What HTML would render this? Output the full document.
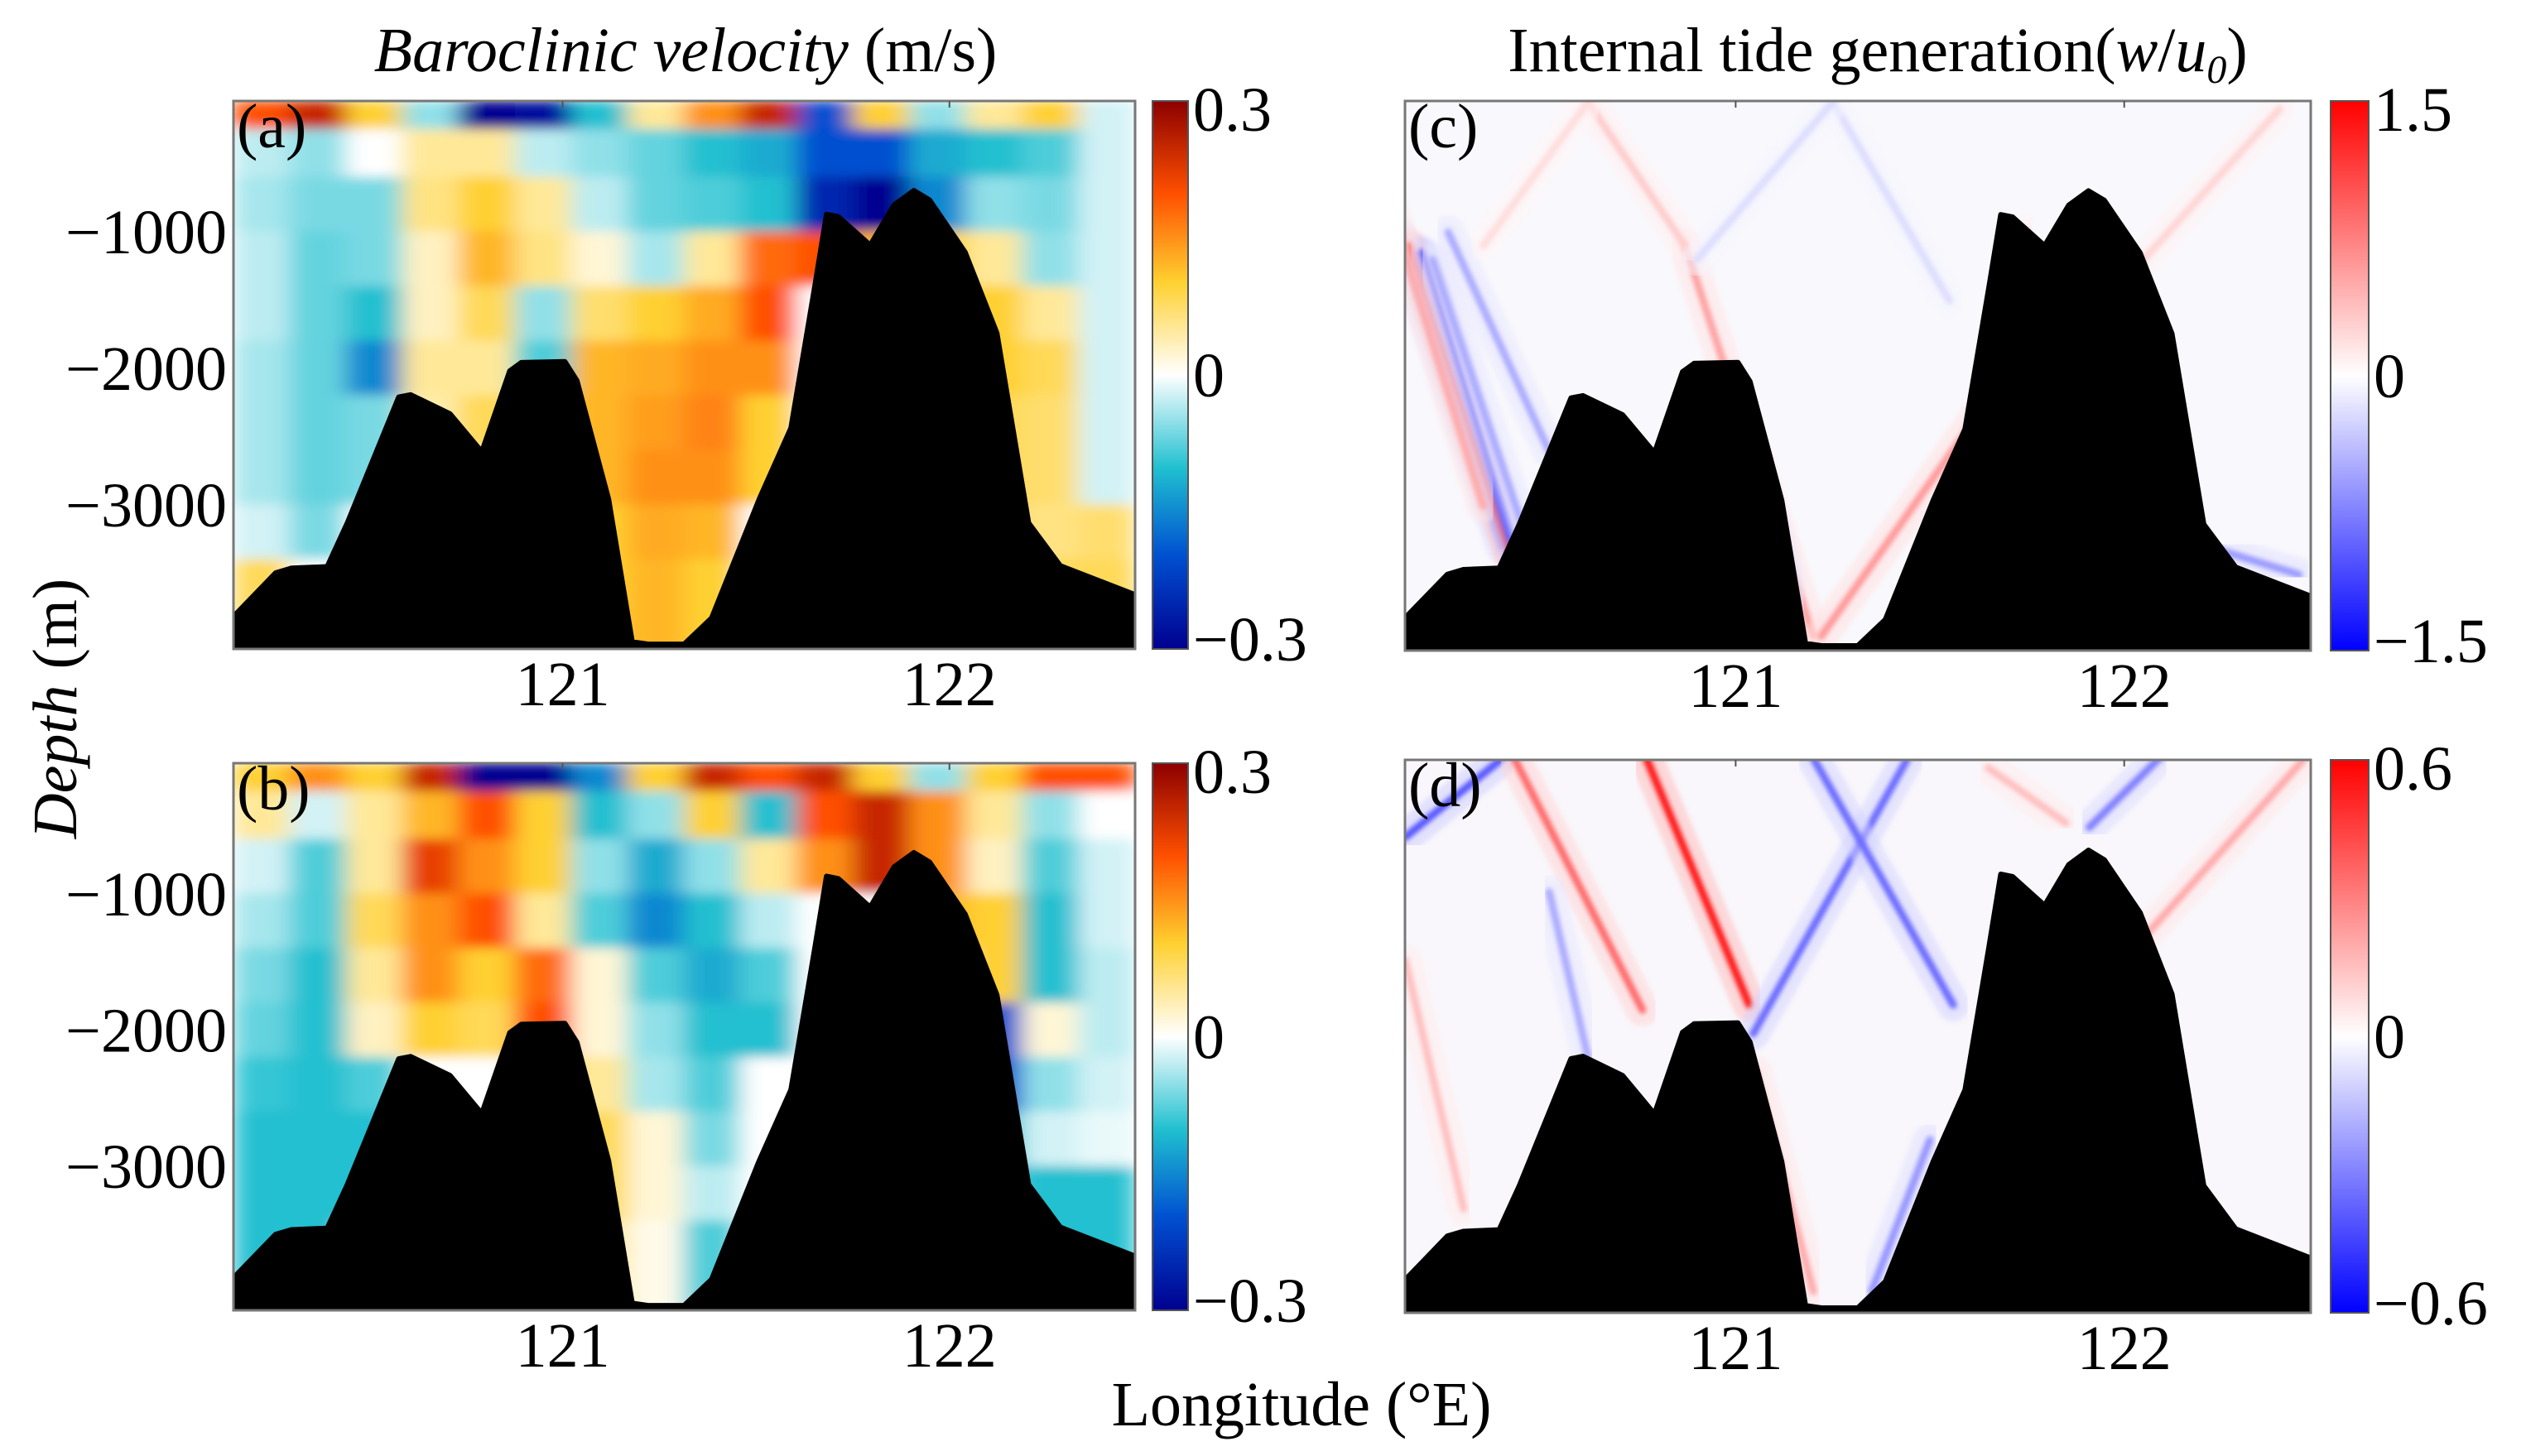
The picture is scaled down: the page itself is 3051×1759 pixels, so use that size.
<!DOCTYPE html>
<html><head><meta charset="utf-8"><style>
html,body{margin:0;padding:0;background:#fff;}
svg{display:block;font-family:"Liberation Serif",serif;}
</style></head><body>
<svg id="fig" width="3051" height="1759" viewBox="0 0 3051 1759" xmlns="http://www.w3.org/2000/svg">
<defs>
<linearGradient id="jetGrad" x1="0" y1="1" x2="0" y2="0">
<stop offset="0" stop-color="#000090"/><stop offset="0.17" stop-color="#0050d0"/><stop offset="0.33" stop-color="#20c0d0"/><stop offset="0.5" stop-color="#ffffff"/><stop offset="0.67" stop-color="#ffd030"/><stop offset="0.83" stop-color="#ff5000"/><stop offset="1" stop-color="#8c0000"/>
</linearGradient>
<linearGradient id="bwrGrad" x1="0" y1="1" x2="0" y2="0">
<stop offset="0" stop-color="#0000ff"/><stop offset="0.5" stop-color="#ffffff"/><stop offset="1" stop-color="#ff0000"/>
</linearGradient>
<filter id="soft" x="-5%" y="-5%" width="110%" height="110%"><feGaussianBlur stdDeviation="14 7" edgeMode="duplicate"/></filter>
<filter id="beamBlur"><feGaussianBlur stdDeviation="3"/></filter>
</defs>
</svg>
<script>
// ---- data ----
const lonEdgesMin = 120.149, lonEdgesMax = 122.48;
const depthRowEdges = [-42,-250,-600,-1000,-1400,-1800,-2200,-2600,-3000,-3400,-4100];
const velA = [
[0.2,0.25,0.1,-0.05,-0.3,-0.28,-0.1,0.05,0.15,0.25,-0.2,0.1,-0.05,0.05,0.1,-0.02],
[-0.03,-0.05,0,0.05,0.05,-0.03,-0.05,-0.07,-0.1,-0.12,-0.2,-0.2,-0.12,-0.1,-0.08,-0.02],
[-0.04,-0.06,-0.06,0.06,0.1,0.05,-0.03,-0.07,-0.08,-0.1,-0.25,-0.3,-0.15,-0.05,-0.06,-0.02],
[-0.03,-0.07,-0.06,0.03,0.12,0.06,0.02,-0.04,0.05,0.18,0.2,0.12,0.1,0.05,-0.05,-0.02],
[-0.03,-0.07,-0.1,0.03,0.08,-0.05,0.07,0.1,0.13,0.2,0,0,0.08,0.1,0.05,-0.02],
[-0.04,-0.07,-0.15,0.05,0.05,-0.08,0.12,0.13,0.15,0.15,0,0,0.06,0.1,0.08,-0.02],
[-0.04,-0.07,-0.06,0.04,0.08,0.1,0.12,0.14,0.16,0.1,0,0,0,0.08,0.07,-0.02],
[-0.04,-0.07,-0.06,0,0,0,0.12,0.15,0.15,0.1,0,0,0,0.08,0.07,-0.02],
[-0.02,-0.06,0,0,0,0,0.1,0.13,0.12,0,0,0,0,0.07,0.06,0.07],
[0.08,0.0,0,0,0,0,0.1,0.12,0.1,0,0,0,0,0,0.08,0.08]];
const velB = [
[0.1,0.15,0.1,0.25,-0.3,-0.3,-0.15,0.1,0.25,0.2,0.25,0.1,-0.05,0.1,0.2,0.2],
[0.05,-0.02,0.05,0.12,0.2,0.1,-0.1,-0.05,0.1,-0.1,0.2,0.25,0.15,0.05,-0.05,0],
[-0.02,-0.08,0.05,0.22,0.15,0.1,-0.05,-0.12,-0.05,0.05,0.15,0.25,0.15,0.03,-0.08,-0.02],
[-0.04,-0.08,0.08,0.15,0.2,0.05,-0.08,-0.15,-0.1,-0.03,0,0,0.12,0.1,-0.1,-0.02],
[-0.06,-0.1,0.05,0.15,0.1,0.18,0.02,-0.08,-0.12,-0.08,0,0,0,0.1,-0.1,-0.03],
[-0.07,-0.1,0.03,0.1,0.08,0.2,0.02,-0.05,-0.1,-0.1,0,0,0,-0.2,0.02,-0.03],
[-0.09,-0.1,-0.08,0,0,0.1,0.05,-0.04,-0.08,0,0,0,0,-0.2,-0.05,-0.02],
[-0.1,-0.1,-0.1,0,0,0,0.08,0.02,-0.06,0,0,0,0,-0.1,-0.02,-0.01],
[-0.1,-0.1,-0.1,0,0,0,0.08,0.02,-0.03,0,0,0,0,-0.08,-0.1,-0.1],
[-0.1,-0.1,0,0,0,0,0.05,0.01,-0.08,0,0,0,0,0,-0.1,-0.1]];
const bathyLon = [120.10,120.145,120.258,120.299,120.391,120.443,120.576,120.607,120.709,120.791,120.863,120.893,121.006,121.037,121.119,121.180,121.221,121.314,121.385,121.508,121.590,121.652,121.682,121.713,121.795,121.857,121.908,121.949,122.041,122.123,122.205,122.287,122.477,122.55];
const bathyDepth = [-3950,-3828,-3497,-3463,-3452,-3132,-2210,-2193,-2332,-2610,-2019,-1957,-1950,-2089,-2958,-4002,-4019,-4019,-3828,-2958,-2437,-1393,-871,-889,-1097,-802,-697,-767,-1150,-1741,-3132,-3445,-3654,-3700];
// beams: [lon0, depth0, lon1, depth1, value]
const beamsC = [
[120.13,-1000,120.40,-3300,-0.7],[120.16,-1100,120.42,-3350,1.3],[120.19,-1150,120.44,-3400,-1.2],
[120.22,-1200,120.47,-3300,-0.5],[120.26,-1000,120.52,-2600,-0.5],[120.10,-700,120.35,-3000,0.5],
[121.20,-3950,120.87,-1100,0.55],[120.87,-1100,120.62,-50,0.3],[121.22,-3950,121.62,-2350,0.6],
[121.16,-3800,121.02,-2400,-0.5],[122.22,-3300,122.45,-3500,-0.6],[121.62,-2300,121.75,-1000,0.3],
[122.05,-1200,122.40,-100,0.25],[120.62,-50,120.35,-1100,0.2],[121.25,-50,121.55,-1500,-0.2],[121.25,-50,120.9,-1200,-0.2]];
const beamsD = [
[121.035,-1821,120.77,-30,0.55],[120.15,-602,120.40,-30,-0.4],[121.045,-2030,121.44,-45,-0.35],
[120.76,-1856,120.43,-30,0.35],[121.56,-1821,121.20,-30,-0.35],[121.91,-532,122.09,-30,-0.3],
[122.05,-1333,122.46,-45,0.2],[121.65,-100,121.85,-500,0.15],[120.30,-3300,120.15,-1500,0.15],
[121.20,-3900,121.05,-2300,0.2],[121.35,-3900,121.50,-2800,-0.25],[120.62,-2200,120.52,-1000,-0.2]];
const velTicks = ["0.3","0","\u22120.3"];
const genTicksC = ["1.5","0","\u22121.5"];
const genTicksD = ["0.6","0","\u22120.6"];
const depthTicks = [-1000,-2000,-3000];
const lonTicks = [121,122];

// ---- helpers ----
const NS="http://www.w3.org/2000/svg";
const svg=document.getElementById('fig');
const FS=76;
function mk(tag,attrs,parent){const e=document.createElementNS(NS,tag);for(const k in attrs)e.setAttribute(k,attrs[k]);(parent||svg).appendChild(e);return e;}
function lerp(a,b,t){return a+(b-a)*t;}
function jet(v){const s=[[-0.3,[0,0,144]],[-0.2,[0,80,208]],[-0.1,[32,192,208]],[0,[255,255,255]],[0.1,[255,208,48]],[0.2,[255,80,0]],[0.3,[140,0,0]]];
 v=Math.max(-0.3,Math.min(0.3,v));for(let i=0;i<s.length-1;i++){if(v<=s[i+1][0]){const t=(v-s[i][0])/(s[i+1][0]-s[i][0]);const c=s[i][1].map((x,j)=>Math.round(lerp(x,s[i+1][1][j],t)));return `rgb(${c})`;}}return 'rgb(140,0,0)';}
function bwr(v){v=Math.max(-1,Math.min(1,v));if(v>=0){const g=Math.round(255*(1-v));return `rgb(255,${g},${g})`;}const g=Math.round(255*(1+v));return `rgb(${g},${g},255)`;}

function makePanel(p){
 const xs=l=>p.x0+(l-lonEdgesMin)/(lonEdgesMax-lonEdgesMin)*(p.x1-p.x0);
 const ys=d=>p.y0+(-42-d)/(4055-42)*(p.y1-p.y0);
 const g=mk('g',{});
 
 
 const cid='clip'+p.id;
 const cp=mk('clipPath',{id:cid},g);mk('rect',{x:p.x0,y:p.y0,width:p.x1-p.x0,height:p.y1-p.y0},cp);
 const inner=mk('g',{'clip-path':`url(#${cid})`},g);
 mk('rect',{x:p.x0,y:p.y0,width:p.x1-p.x0,height:p.y1-p.y0,fill:p.bg},inner);
 if(p.grid){
  const hg=mk('g',{filter:'url(#soft)'},inner);
  
  
  const nc=p.grid[0].length, dl=(lonEdgesMax-lonEdgesMin)/nc;
  p.grid.forEach((row,r)=>row.forEach((v,c)=>{
   const xa=xs(lonEdgesMin+c*dl), xb=xs(lonEdgesMin+(c+1)*dl);
   const ya=ys(depthRowEdges[r]), yb=ys(depthRowEdges[r+1]);
   const cell=mk('rect',{x:xa-0.5,y:ya-0.5,width:xb-xa+1,height:yb-ya+1,fill:jet(v)},hg);
   
   
  }));
 }
 if(p.beams){
  const bg=mk('g',{},inner);
  
  
  p.beams.forEach(b=>{
   const n=b[4]/p.vmax;
   const wide=mk('line',{x1:xs(b[0]),y1:ys(b[1]),x2:xs(b[2]),y2:ys(b[3]),stroke:bwr(n*0.3),'stroke-width':40,'stroke-linecap':'round',opacity:0.5,filter:'url(#beamBlur)'},bg);
   
   
   const ln=mk('line',{x1:xs(b[0]),y1:ys(b[1]),x2:xs(b[2]),y2:ys(b[3]),stroke:bwr(n),'stroke-width':9,'stroke-linecap':'round',filter:'url(#beamBlur)'},bg);
   
   
  });
 }
 let d=`M${xs(bathyLon[0])},${p.y1+5}`;
 bathyLon.forEach((l,i)=>{d+=` L${xs(l).toFixed(1)},${ys(bathyDepth[i]).toFixed(1)}`;});
 d+=` L${xs(bathyLon[bathyLon.length-1])},${p.y1+5} Z`;
 const bp=mk('path',{d:d,fill:'#000','stroke':'#000','stroke-width':6,'stroke-linejoin':'round'},inner);
 
 
 const fr=mk('rect',{x:p.x0,y:p.y0,width:p.x1-p.x0,height:p.y1-p.y0,fill:'none',stroke:'#777','stroke-width':3},g);
 
 
 const lab=mk('text',{x:p.x0+4,y:p.y0+56,'font-size':FS},g);lab.textContent=p.label;
 
 
 lonTicks.forEach(t=>{
  const tx=mk('text',{x:xs(t),y:p.y1+68,'font-size':FS,'text-anchor':'middle'},g);tx.textContent=String(t);
  
  
  mk('line',{x1:xs(t),y1:p.y0,x2:xs(t),y2:p.y0+8,stroke:'#555','stroke-width':2},g);
 });
 if(p.yticks){depthTicks.forEach(t=>{
  const ty=mk('text',{x:p.x0-8,y:ys(t)+26,'font-size':FS,'text-anchor':'end'},g);ty.textContent=String(t).replace('-','\u2212');
  
  
 });}
 const cb=mk('rect',{x:p.cbx,y:p.y0,width:p.cbw,height:p.y1-p.y0,fill:p.grad,stroke:'#555','stroke-width':2},g);
 
 
 const cy=[p.y0+36,(p.y0+p.y1)/2+26,p.y1+14];
 p.cbTicks.forEach((t,i)=>{
  const ct=mk('text',{x:p.cbx+p.cbw+6,y:cy[i],'font-size':FS},g);ct.textContent=t;
  
  
 });
}
makePanel({id:'a',name:'panel-a',label:'(a)',x0:282,x1:1371,y0:122,y1:784,bg:'#fff',grid:velA,yticks:true,cbx:1392,cbw:43,grad:'url(#jetGrad)',cbTicks:velTicks});
makePanel({id:'b',name:'panel-b',label:'(b)',x0:282,x1:1371,y0:922,y1:1583,bg:'#fff',grid:velB,yticks:true,cbx:1392,cbw:43,grad:'url(#jetGrad)',cbTicks:velTicks});
makePanel({id:'c',name:'panel-c',label:'(c)',x0:1697,x1:2791,y0:122,y1:786,bg:'#f9f8fc',beams:beamsC,vmax:1.5,yticks:false,cbx:2815,cbw:46,grad:'url(#bwrGrad)',cbTicks:genTicksC});
makePanel({id:'d',name:'panel-d',label:'(d)',x0:1697,x1:2791,y0:918,y1:1586,bg:'#f9f7fb',beams:beamsD,vmax:0.6,yticks:false,cbx:2815,cbw:46,grad:'url(#bwrGrad)',cbTicks:genTicksD});

const t1=mk('text',{x:828,y:86,'font-size':FS,'text-anchor':'middle'});
t1.innerHTML='<tspan font-style="italic">Baroclinic velocity</tspan> (m/s)';


const t2=mk('text',{x:2268,y:86,'font-size':FS,'text-anchor':'middle'});
t2.innerHTML='Internal tide generation(<tspan font-style="italic">w</tspan>/<tspan font-style="italic">u</tspan><tspan font-style="italic" font-size="48" dy="14">0</tspan><tspan dy="-14">)</tspan>';


const yl=mk('text',{x:0,y:0,'font-size':FS,'text-anchor':'middle',transform:'translate(92,856) rotate(-90)'});
yl.innerHTML='<tspan font-style="italic">Depth</tspan> (m)';


const xl=mk('text',{x:1572,y:1722,'font-size':FS,'text-anchor':'middle'});
xl.textContent='Longitude (\u00B0E)';


</script>
</body></html>
